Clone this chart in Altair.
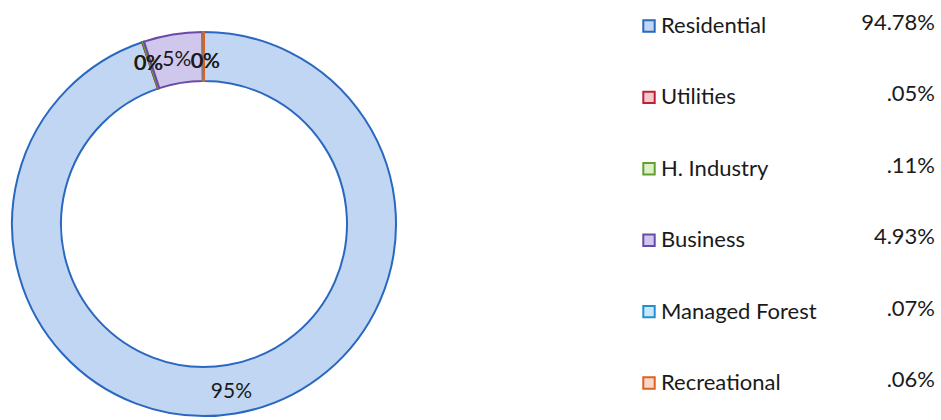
import altair as alt
import pandas as pd
import math

categories = ["Residential", "Utilities", "H. Industry", "Business", "Managed Forest", "Recreational"]
shares = [94.78, 0.05, 0.11, 4.93, 0.07, 0.06]
value_labels = ["94.78%", ".05%", ".11%", "4.93%", ".07%", ".06%"]
slice_labels = ["95%", "0%", "0%", "5%", "0%", "0%"]
fill_colors = ["#c0d6f2", "#f2c9cc", "#dcefc8", "#d0c8ec", "#c8e8f8", "#f8d8c8"]
stroke_colors = ["#2a68c0", "#c0203a", "#62a030", "#6a4aa8", "#2090d0", "#e06020"]

df = pd.DataFrame({
    "cat": categories,
    "share": shares,
    "idx": list(range(len(categories))),
    "vlabel": value_labels,
    "slabel": slice_labels,
})

FONT = "Lato"
TXT = "#1a1a1a"
cx, cy = 204, 224

fill_scale = alt.Scale(domain=categories, range=fill_colors)
stroke_scale = alt.Scale(domain=categories, range=stroke_colors)
theta_scale = alt.Scale(domain=[0, 100], range=[0, 2 * math.pi])

base = alt.Chart(df).transform_window(
    cum="sum(share)", sort=[alt.SortField("idx")], frame=[None, 0]
).transform_calculate(
    start="datum.cum - datum.share",
    mid="datum.cum - datum.share / 2",
)

arcs = base.mark_arc(innerRadius=143, outerRadius=192, strokeWidth=2).encode(
    theta=alt.Theta("start:Q", scale=theta_scale, stack=False),
    theta2="cum:Q",
    fill=alt.Fill("cat:N", scale=fill_scale, legend=None),
    stroke=alt.Stroke("cat:N", scale=stroke_scale, legend=None),
    x=alt.value(cx),
    y=alt.value(cy),
)

lab_common = dict(radius=168, font=FONT, fontSize=21, color=TXT)

def slice_label_layer(cats, **kw):
    return base.mark_text(**lab_common, **kw).encode(
        theta=alt.Theta("mid:Q", scale=theta_scale, stack=False),
        text="slabel:N",
        x=alt.value(cx),
        y=alt.value(cy),
    ).transform_filter(alt.FieldOneOfPredicate(field="cat", oneOf=cats))

labels_res = slice_label_layer(["Residential"], dy=2)
labels_left = slice_label_layer(["Utilities", "H. Industry"], dy=-1, dx=-2)
labels_bus = slice_label_layer(["Business"], dy=2)
labels_right = slice_label_layer(["Managed Forest", "Recreational"], dy=6, dx=2)

yscale = alt.Scale(domain=categories, range=[26, 383], padding=0)

squares = alt.Chart(df).mark_square(size=130, filled=True, strokeWidth=2, opacity=1).encode(
    y=alt.Y("cat:N", scale=yscale, axis=None),
    x=alt.value(649),
    fill=alt.Fill("cat:N", scale=fill_scale, legend=None),
    stroke=alt.Stroke("cat:N", scale=stroke_scale, legend=None),
)

leg_text = alt.Chart(df).mark_text(align="left", baseline="middle", font=FONT, fontSize=22, color=TXT).encode(
    y=alt.Y("cat:N", scale=yscale, axis=None),
    x=alt.value(661),
    text="cat:N",
)

val_text = alt.Chart(df).mark_text(align="right", baseline="middle", font=FONT, fontSize=22, color=TXT, dy=-3).encode(
    y=alt.Y("cat:N", scale=yscale, axis=None),
    x=alt.value(935),
    text="vlabel:N",
)

chart = alt.layer(
    arcs, labels_res, labels_left, labels_bus, labels_right, squares, leg_text, val_text
).properties(
    width=941, height=420, autosize=alt.AutoSizeParams(type="none"), padding=0,
    background="white",
).configure_view(strokeWidth=0)

chart.save("out.html", embed_options={"renderer": "svg", "actions": False})
